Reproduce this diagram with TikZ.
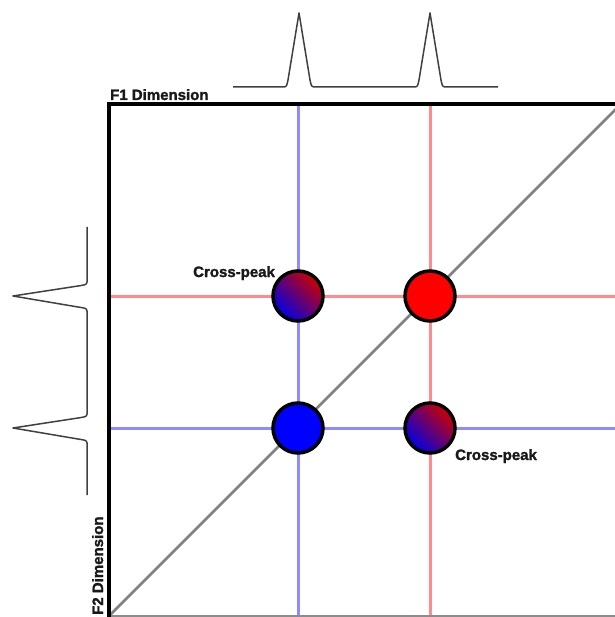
\documentclass[tikz,border=0pt]{standalone}
\usepackage{fontspec}
\setmainfont{Liberation Sans}
\newfontfamily\labfont[FakeBold=1.6]{Liberation Sans Bold}
\begin{document}
\begin{tikzpicture}[x=1pt,y=-1pt,
  lab/.style={font=\labfont\fontsize{15}{15}\selectfont, inner sep=0pt, text=black!90},
  axisline/.style={line width=3.5pt, black},
  diag/.style={line width=2.6pt, black!50},
  bluel/.style={line width=3pt, blue!45},
  redl/.style={line width=3pt, red!45},
  spec/.style={line width=1.5pt, black!75, line join=round},
  peak/.style={circle, draw=black, line width=3.5pt, minimum size=50pt, inner sep=0pt},
  cross/.style={peak, top color=red!80!black, bottom color=blue!90!black, shading angle=-45}]
\useasboundingbox (0,0) rectangle (614,617);
% corners of the plot
\coordinate (TL) at (109,104);
\coordinate (TR) at (616,104);
\coordinate (BL) at (109,616);
\coordinate (BR) at (616,616);
\coordinate (DE) at (616,109);
% guide line ends
\coordinate (v1t) at (298,104); \coordinate (v1b) at (298,620);
\coordinate (v2t) at (430,104); \coordinate (v2b) at (430,620);
\coordinate (h1l) at (109,296); \coordinate (h1r) at (616,296);
\coordinate (h2l) at (109,428); \coordinate (h2r) at (616,428);
% guide lines
\draw[bluel] (v1t) -- (v1b);
\draw[redl] (v2t) -- (v2b);
\draw[redl] (h1l) -- (h1r);
\draw[bluel] (h2l) -- (h2r);
% bottom and diagonal
\draw[line width=1.5pt, black!45] (BL) -- (BR);
\draw[diag] (BL) -- (DE);
% axes
\draw[axisline, line cap=rect] (BL) -- (TL) -- (TR);
% peaks
\node[cross] (cp1) at (298,296) {};
\node[peak, fill=red] (dp1) at (430,296) {};
\node[peak, fill=blue] (dp2) at (298,428) {};
\node[cross] (cp2) at (430,428) {};
% top spectrum
\draw[spec] (233,87) -- (284,87) .. controls (287,87) and (287,84) .. (288,80)
  -- (299,13) -- (310,80) .. controls (311,84) and (311,87) .. (314,87)
  -- (415,87) .. controls (418,87) and (418,84) .. (419,80)
  -- (430,13) -- (441,80) .. controls (442,84) and (442,87) .. (445,87) -- (498,87);
% left spectrum
\draw[spec] (87,227) -- (87,282) .. controls (87,285) and (84,285) .. (78,286)
  -- (13,296) -- (78,307) .. controls (84,308) and (87,308) .. (87,311)
  -- (87,414) .. controls (87,417) and (84,417) .. (78,418)
  -- (13,428) -- (78,439) .. controls (84,440) and (87,440) .. (87,443) -- (87,495);
% labels
\node[lab, anchor=base west] (f1) at (110,100) {F1 Dimension};
\node[lab, anchor=base west, rotate=90] (f2) at (103,615) {F2 Dimension};
\node[lab, anchor=base west] (c1) at (193,277) {Cross-peak};
\node[lab, anchor=base west] (c2) at (455,460) {Cross-peak};
\end{tikzpicture}
\end{document}
